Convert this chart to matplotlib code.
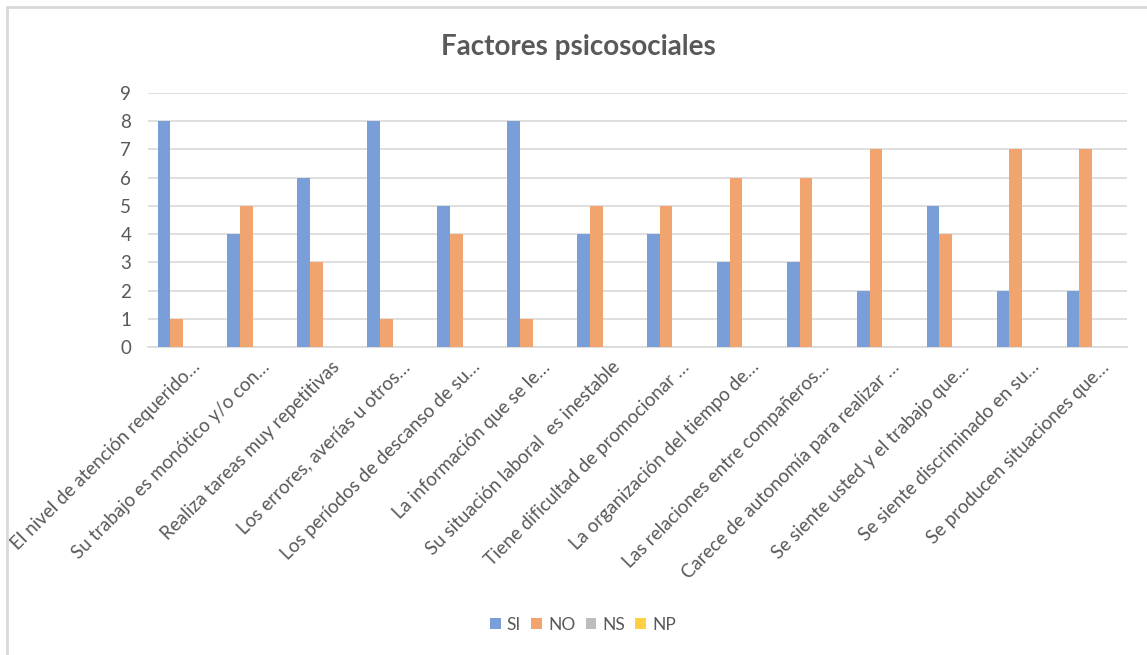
import matplotlib
matplotlib.use("Agg")
import matplotlib.pyplot as plt
import numpy as np
from matplotlib.lines import Line2D
from matplotlib.patches import Patch

categories = [
    "El nivel de atención requerido…",
    "Su trabajo es monótico y/o con…",
    "Realiza tareas muy repetitivas",
    "Los errores, averías u otros…",
    "Los períodos de descanso de su…",
    "La información que se le…",
    "Su situación laboral  es inestable",
    "Tiene dificultad de promocionar …",
    "La organización del tiempo de…",
    "Las relaciones entre compañeros…",
    "Carece de autonomía para realizar …",
    "Se siente usted y el trabajo que…",
    "Se siente discriminado en su…",
    "Se producen situaciones que…",
]
series_names = ["SI", "NO", "NS", "NP"]
si = [8, 4, 6, 8, 5, 8, 4, 4, 3, 3, 2, 5, 2, 2]
no = [1, 5, 3, 1, 4, 1, 5, 5, 6, 6, 7, 4, 7, 7]
ns = [0] * 14
np_ = [0] * 14
yticks = list(range(0, 10))

colors = ["#7A9FD8", "#F2A46E", "#BDBDBD", "#FFD044"]
txt = "#595959"
font = "Lato"

fig = plt.figure(figsize=(11.47, 6.55), dpi=100)
fig.patch.set_facecolor("white")

ax = fig.add_axes([148/1147, 1-347/655, (1127-148)/1147, (347-93)/655])
x = np.arange(len(categories))
bw = 0.182
for i, (vals, c) in enumerate(zip([si, no, ns, np_], colors)):
    ax.bar(x + (i - 1.5) * bw, vals, width=bw, color=c, label=series_names[i], zorder=3)

ax.set_xlim(-0.5, len(categories) - 0.5)
ax.set_ylim(0, 9)
ax.set_yticks(yticks)
ax.set_yticklabels([str(v) for v in yticks], fontsize=13.5, color=txt, family=font)
ax.yaxis.grid(True, color="#D9D9D9", linewidth=1.2, zorder=0)
ax.set_axisbelow(True)
for s in ["top", "right", "left"]:
    ax.spines[s].set_visible(False)
ax.spines["bottom"].set_color("#D9D9D9")
ax.spines["bottom"].set_linewidth(1.2)
ax.tick_params(axis="both", length=0)
ax.tick_params(axis="y", pad=12)
ax.set_xticks(x + 0.12)
ax.set_xticklabels(categories, rotation=45, ha="right", va="top", rotation_mode="anchor",
                   fontsize=13.5, color=txt, family=font)
ax.tick_params(axis="x", pad=8)

fig.text(578/1147, 1-47/655, "Factores psicosociales", ha="center", va="center",
         fontsize=20, fontweight="bold", color=txt, family=font)

handles = [Patch(facecolor=c, edgecolor="none") for c in colors]
leg = fig.legend(handles, series_names, loc="center", bbox_to_anchor=(583/1147, 1-625/655),
                 ncol=4, frameon=False, fontsize=12.5, handlelength=0.6, handleheight=0.6,
                 handletextpad=0.35, columnspacing=0.6)
for t in leg.get_texts():
    t.set_color(txt)
    t.set_family(font)

# chart border (left and top visible)
fig.add_artist(Line2D([7.5/1147, 7.5/1147], [0, 1-7/655], transform=fig.transFigure,
                      color="#D9D9D9", linewidth=2))
fig.add_artist(Line2D([7.5/1147, 1], [1-7/655, 1-7/655], transform=fig.transFigure,
                      color="#D9D9D9", linewidth=2))

fig.savefig("out.png", dpi=100, facecolor="white")
